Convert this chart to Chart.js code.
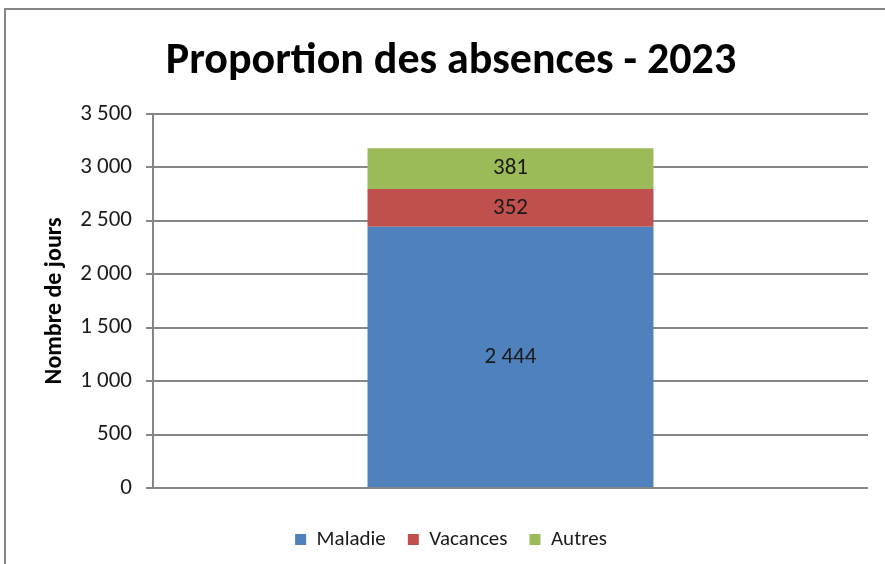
<!DOCTYPE html>
<html><head><meta charset="utf-8">
<script src="https://cdn.jsdelivr.net/npm/chart.js@4/dist/chart.umd.min.js"></script>
<style>html,body{margin:0;padding:0;background:#fff}#wrap{width:885px;height:564px}</style>
</head><body><div id="wrap"><canvas id="c" width="885" height="564"></canvas></div>
<script>
const categories = [''];
const seriesNames = ['Maladie', 'Vacances', 'Autres'];
const maladie = [2444];
const vacances = [352];
const autres = [381];
const colors = ['#4F81BD', '#C0504D', '#9BBB59'];
const yMax = 3500, yStep = 500;
const FONT = "'Carlito', 'Lato', sans-serif";

function fmt(v){ return String(v).replace(/\B(?=(\d{3})+(?!\d))/g, ' '); }

const borderPlugin = {
  id: 'border',
  beforeDraw(chart){
    const ctx = chart.ctx;
    ctx.save();
    ctx.fillStyle = '#fff'; ctx.fillRect(0,0,chart.width,chart.height);
    ctx.strokeStyle = '#868686'; ctx.lineWidth = 2;
    ctx.beginPath(); ctx.moveTo(885,9); ctx.lineTo(5,9); ctx.lineTo(5,564); ctx.stroke();
    ctx.restore();
  }
};
const labelPlugin = {
  id: 'labels',
  afterDatasetsDraw(chart){
    const ctx = chart.ctx;
    ctx.save();
    ctx.font = '23px ' + FONT; ctx.fillStyle = '#1a1a1a';
    ctx.textAlign = 'center'; ctx.textBaseline = 'middle';
    chart.data.datasets.forEach((ds, i) => {
      chart.getDatasetMeta(i).data.forEach((el, j) => {
        const p = el.getProps(['x','y','base'], true);
        ctx.fillText(fmt(ds.data[j]), p.x, (p.y + p.base)/2);
      });
    });
    ctx.restore();
  }
};

new Chart(document.getElementById('c'), {
  type: 'bar',
  data: {
    labels: categories,
    datasets: [
      {label: seriesNames[0], data: maladie, backgroundColor: colors[0]},
      {label: seriesNames[1], data: vacances, backgroundColor: colors[1]},
      {label: seriesNames[2], data: autres, backgroundColor: colors[2]}
    ].map(d => Object.assign(d, {barPercentage: 0.4, categoryPercentage: 1, borderWidth: 0}))
  },
  options: {
    responsive: false, animation: false, devicePixelRatio: 1,
    layout: {padding: {left: 34, right: 17, top: 0, bottom: 4}},
    plugins: {
      title: {display: true, text: 'Proportion des absences - 2023', color: '#000',
        font: {family: FONT, size: 44, weight: 'bold'}, padding: {top: 36, bottom: 25}},
      legend: {position: 'bottom', labels: {boxWidth: 11, boxHeight: 11, color: '#1a1a1a',
        font: {family: FONT, size: 21}, padding: 22}},
      tooltip: {enabled: false}
    },
    scales: {
      x: {stacked: true, grid: {display: false}, border: {display: false},
          ticks: {display: false}, afterFit(s){ s.height = 19; }},
      y: {stacked: true, min: 0, max: yMax,
          ticks: {stepSize: yStep, color: '#1a1a1a', font: {family: FONT, size: 23}, padding: 14,
                  callback: v => fmt(v)},
          grid: {color: '#868686', lineWidth: 2, tickLength: 7},
          border: {color: '#868686', width: 2},
          title: {display: true, text: 'Nombre de jours', color: '#000',
                  font: {family: FONT, size: 24, weight: 'bold'}, padding: {top: 7, bottom: 0}},
          afterFit(s){ s.width = 119; }}
    }
  },
  plugins: [borderPlugin, labelPlugin]
});
</script></body></html>
